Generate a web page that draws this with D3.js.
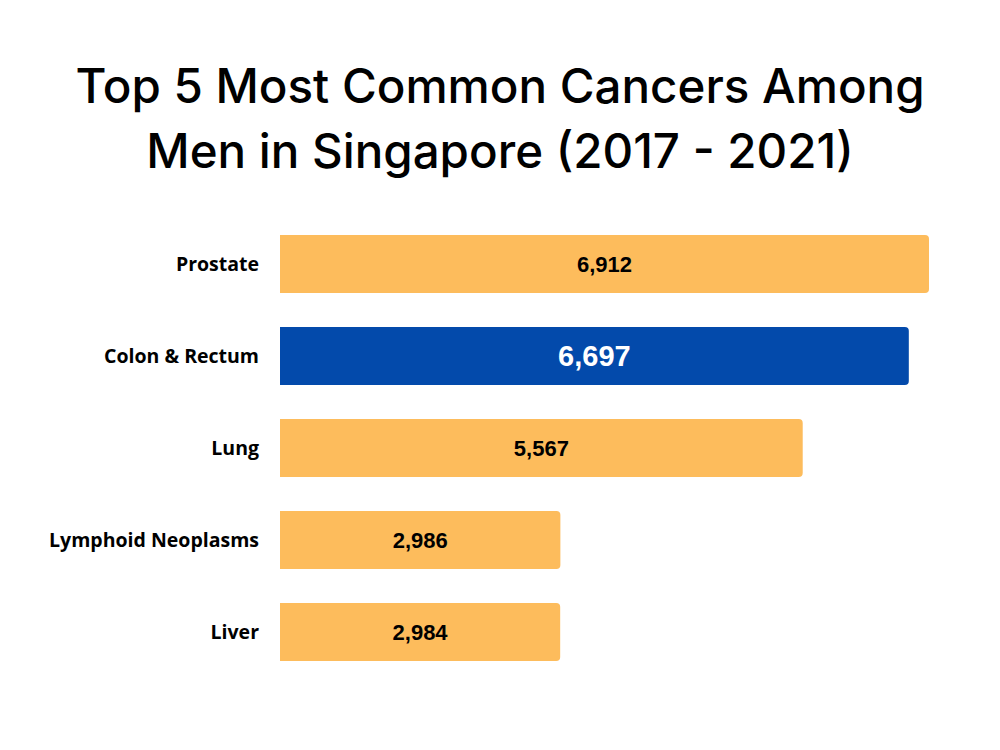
<!DOCTYPE html>
<html><head><meta charset="utf-8">
<script src="https://cdn.jsdelivr.net/npm/d3@7"></script>
<style>body{margin:0;background:#fff}svg{display:block}</style>
</head><body>
<svg id="c" width="1000" height="750"></svg>
<script>
const categories = ["Prostate", "Colon & Rectum", "Lung", "Lymphoid Neoplasms", "Liver"];
const values = [6912, 6697, 5567, 2986, 2984];
const highlight = ["Colon & Rectum"];
const titleLines = ["Top 5 Most Common Cancers Among", "Men in Singapore (2017 - 2021)"];

const svg = d3.select("#c");
svg.append("rect").attr("width",1000).attr("height",750).attr("fill","#fff");

svg.selectAll("text.title").data(titleLines).join("text")
  .attr("class","title")
  .attr("x",500).attr("y",(d,i)=>103+i*65)
  .attr("text-anchor","middle")
  .attr("font-family","Inter, 'Noto Sans', sans-serif")
  .attr("font-weight",500)
  .attr("font-size",47.5)
  .attr("fill","#000")
  .text(d=>d);

const x0 = 280;
const x = d3.scaleLinear().domain([0, 6912]).range([0, 649]);
const y = d3.scaleBand().domain(categories).range([235, 661]).paddingInner(0.3696).paddingOuter(0);

function barPath(w, h, r){
  return `M0,0 H${w-r} Q${w},0 ${w},${r} V${h-r} Q${w},${h} ${w-r},${h} H0 Z`;
}

const g = svg.append("g");
const rows = g.selectAll("g.row").data(categories.map((c,i)=>({c, v: values[i]}))).join("g")
  .attr("class","row")
  .attr("transform", d=>`translate(${x0},${y(d.c)})`);

rows.append("path")
  .attr("d", d=>barPath(x(d.v), y.bandwidth(), 4))
  .attr("fill", d=>highlight.includes(d.c) ? "#034AAB" : "#FDBC5C");

rows.append("text")
  .attr("x", d=>x(d.v)/2)
  .attr("y", y.bandwidth()/2)
  .attr("dy","0.36em")
  .attr("text-anchor","middle")
  .attr("font-family","'Liberation Sans', Arial, sans-serif")
  .attr("font-weight","bold")
  .attr("font-size", d=>highlight.includes(d.c) ? 29 : 22)
  .attr("fill", d=>highlight.includes(d.c) ? "#fff" : "#000")
  .text(d=>d3.format(",")(d.v));

rows.append("text")
  .attr("x", -21)
  .attr("y", y.bandwidth()/2)
  .attr("dy","0.36em")
  .attr("text-anchor","end")
  .attr("font-family","'Open Sans', sans-serif")
  .attr("font-weight",700)
  .attr("font-size",19.5)
  .attr("fill","#000")
  .text(d=>d.c);
</script>
</body></html>
